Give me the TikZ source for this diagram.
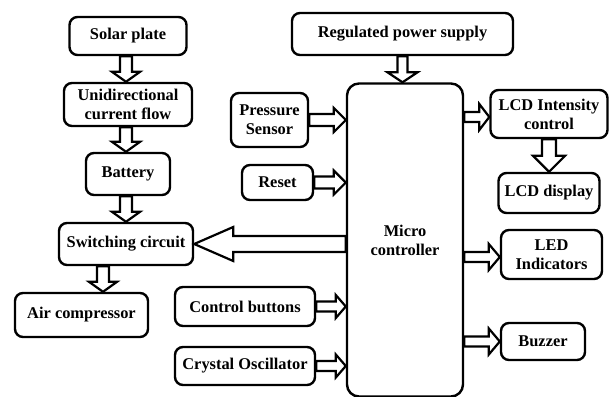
\documentclass[tikz,border=0pt]{standalone}
\usepackage{fontspec}
\setmainfont{Liberation Serif}
\usetikzlibrary{calc}
\tikzset{
  box/.style={draw, line width=2.4pt, rounded corners=8pt, inner sep=0pt, align=center,
    font=\fontsize{16.4}{19}\selectfont\bfseries},
  harrow/.style n args={3}{draw, line width=2.2pt, to path={
    let \p1=(\tikztostart), \p2=(\tikztotarget), \p3=($(\p2)!#3!(\p1)$) in
    ($(\p1)!#1!90:(\p2)$) -- ($(\p3)!#1!90:(\p2)$) -- ($(\p3)!#2!90:(\p2)$) -- (\p2)
    -- ($(\p3)!#2!-90:(\p2)$) -- ($(\p3)!#1!-90:(\p2)$) -- ($(\p1)!#1!-90:(\p2)$) -- cycle}}
}
\begin{document}
\begin{tikzpicture}[x=1pt, y=-1pt]
\useasboundingbox (0,0) rectangle (609,396);
% left chain
\node[box, minimum width=117pt, minimum height=38pt] (sol) at (128,36) {Solar plate};
\node[box, minimum width=128pt, minimum height=43pt] (uni) at (128,104.5) {Unidirectional\\current flow};
\node[box, minimum width=84pt, minimum height=42pt] (bat) at (128,174) {Battery};
\node[box, minimum width=134pt, minimum height=42pt] (sw) at (126,244) {Switching circuit};
\node[box, minimum width=133pt, minimum height=44pt] (air) at (81.5,315) {Air compressor};
% inputs
\node[box, minimum width=77pt, minimum height=54pt] (pre) at (269.5,120) {Pressure\\Sensor};
\node[box, minimum width=71pt, minimum height=35pt] (res) at (277.5,182.5) {Reset};
\node[box, minimum width=140pt, minimum height=39pt] (ctl) at (245,306.5) {Control buttons};
\node[box, minimum width=140pt, minimum height=38pt] (cry) at (245,366) {Crystal Oscillator};
\node[box, minimum width=221pt, minimum height=42pt] (reg) at (402.5,34) {Regulated power supply};
% micro
\node[box, rounded corners=12pt, minimum width=116pt, minimum height=313pt] (mc) at (405,240) {Micro\\controller};
% outputs
\node[box, minimum width=117pt, minimum height=48pt] (lcd) at (549,114) {LCD Intensity\\control};
\node[box, minimum width=101pt, minimum height=40pt] (lcdd) at (549,193) {LCD display};
\node[box, minimum width=101pt, minimum height=49pt] (led) at (551.5,254.5) {LED\\Indicators};
\node[box, minimum width=84pt, minimum height=37pt] (buz) at (543,341.5) {Buzzer};
% connectors
\coordinate (s1) at ($(sol.south)+(-2,0)$);
\coordinate (s2) at ($(uni.south)+(-2,0)$);
\coordinate (s3) at ($(bat.south)+(-2,0)$);
\coordinate (sa) at ($(sw.south)+(-23,0)$);
\draw[harrow={6pt}{14pt}{10pt}] (s1) to (s1 |- uni.north);
\draw[harrow={6pt}{14pt}{10pt}] (s2) to (s2 |- bat.north);
\draw[harrow={6pt}{14pt}{10pt}] (s3) to (s3 |- sw.north);
\draw[harrow={6pt}{14pt}{10pt}] (sa) to (sa |- air.north);
\draw[harrow={5pt}{15pt}{10pt}] (reg.south) to (reg.south |- mc.north);
\draw[harrow={6pt}{12pt}{12pt}] (pre.east) to (pre.east -| mc.west);
\draw[harrow={6pt}{12pt}{12pt}] (res.east) to (res.east -| mc.west);
\draw[harrow={5pt}{11.5pt}{10pt}] (ctl.east) to (ctl.east -| mc.west);
\draw[harrow={5pt}{11.5pt}{10pt}] (cry.east) to (cry.east -| mc.west);
\draw[harrow={8pt}{17pt}{39pt}] (sw.east -| mc.west) to (sw.east);
\coordinate (l1) at ($(lcd.west)+(0,3)$);
\draw[harrow={5pt}{13pt}{10pt}] (l1 -| mc.east) to (l1);
\draw[harrow={7pt}{16pt}{16pt}] (lcd.south) to (lcd.south |- lcdd.north);
\coordinate (l2) at ($(led.west)+(0,2.5)$);
\draw[harrow={5pt}{13pt}{11pt}] (l2 -| mc.east) to (l2);
\draw[harrow={5pt}{13pt}{11pt}] (buz.west -| mc.east) to (buz.west);
\end{tikzpicture}
\end{document}
